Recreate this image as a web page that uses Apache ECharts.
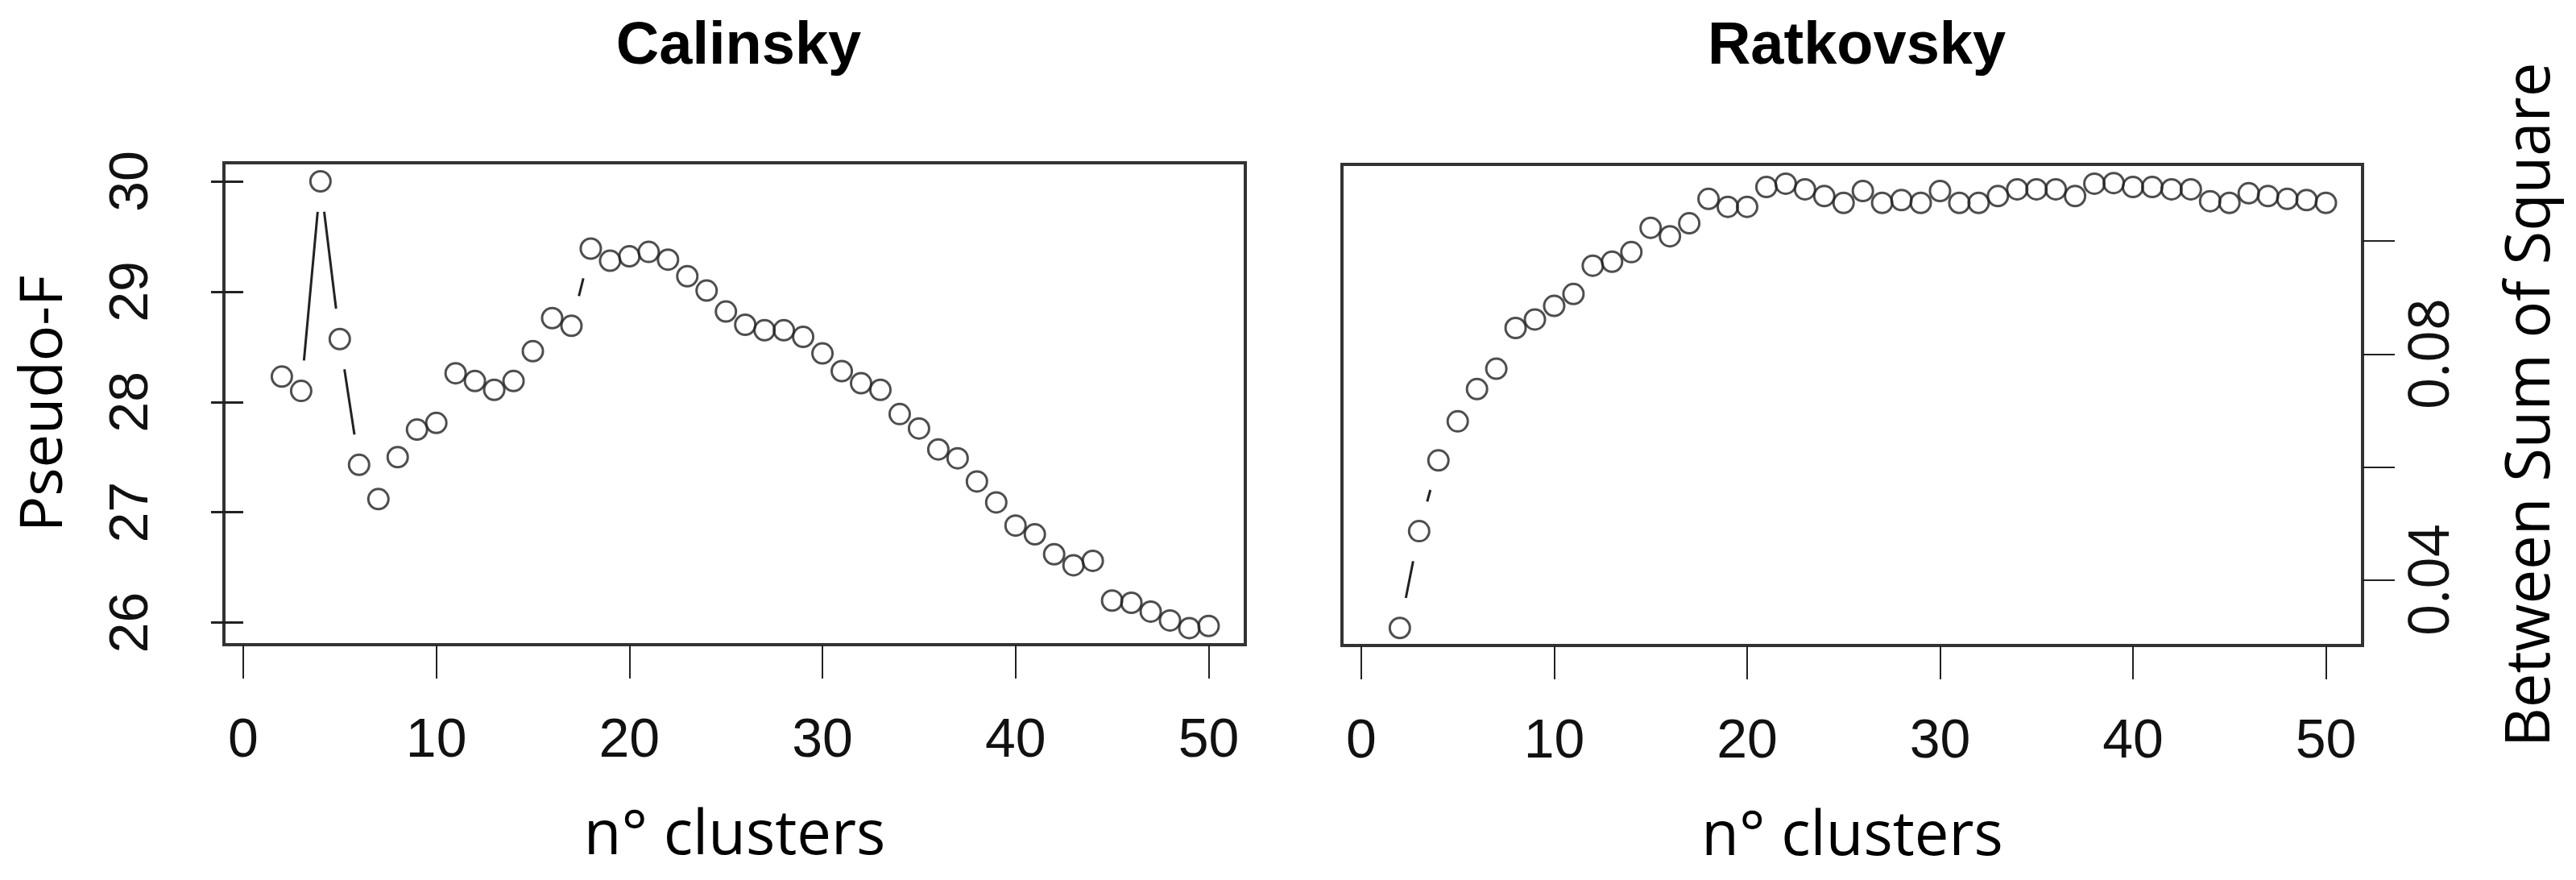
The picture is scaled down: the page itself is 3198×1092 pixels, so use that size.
<!DOCTYPE html>
<html>
<head>
<meta charset="utf-8">
<script src="https://cdn.jsdelivr.net/npm/echarts@6/dist/echarts.min.js"></script>
<style>
  html, body { margin: 0; padding: 0; background: #fff; }
  #chart { width: 3198px; height: 1092px; }
</style>
</head>
<body>
<div id="chart"></div>
<script>
// n° clusters
const clusters = [2, 3, 4, 5, 6, 7, 8, 9, 10, 11, 12, 13, 14, 15, 16, 17, 18, 19, 20,
  21, 22, 23, 24, 25, 26, 27, 28, 29, 30, 31, 32, 33, 34, 35, 36, 37, 38, 39, 40,
  41, 42, 43, 44, 45, 46, 47, 48, 49, 50];

// Calinsky (Pseudo-F)
const calinsky = [28.23, 28.10, 30.00, 28.57, 27.43, 27.12, 27.50, 27.75, 27.81, 28.26,
  28.19, 28.11, 28.19, 28.46, 28.76, 28.69, 29.39, 29.28, 29.32, 29.36,
  29.29, 29.14, 29.01, 28.82, 28.70, 28.65, 28.65, 28.59, 28.44, 28.28,
  28.17, 28.11, 27.89, 27.76, 27.57, 27.49, 27.28, 27.09, 26.88, 26.80,
  26.62, 26.52, 26.56, 26.20, 26.18, 26.10, 26.02, 25.95, 25.97];

// Ratkovsky (between sum of square)
const ratkovsky = [0.0316, 0.0487, 0.0612, 0.0681, 0.0738, 0.0774, 0.0846, 0.0861, 0.0885, 0.0906,
  0.0956, 0.0963, 0.0980, 0.1023, 0.1008, 0.1031, 0.1074, 0.1060, 0.1060, 0.1095,
  0.1101, 0.1091, 0.1079, 0.1067, 0.1088, 0.1067, 0.1072, 0.1067, 0.1088, 0.1067,
  0.1067, 0.1079, 0.1091, 0.1091, 0.1091, 0.1079, 0.1101, 0.1102, 0.1095, 0.1095,
  0.1091, 0.1091, 0.1070, 0.1067, 0.1084, 0.1079, 0.1074, 0.1072, 0.1067];

// ticks
const xTicks = [0, 10, 20, 30, 40, 50];
const calinskyTicks = [26, 27, 28, 29, 30];
const ratkovskyTicks = [0.04, 0.06, 0.08, 0.10];
const ratkovskyLabels = [0.04, 0.08];

const ink = '#222';
const boxColor = '#333';

function pairs(xs, ys) {
  return xs.map((x, i) => [x, ys[i]]);
}
// consecutive point pairs, for R type="b" style connecting segments
function segments(xs, ys) {
  return xs.slice(0, -1).map((x, i) => [x, ys[i], xs[i + 1], ys[i + 1]]);
}

// line drawn between points, leaving a gap round each circle
function renderGap(params, api) {
  const p0 = api.coord([api.value(0), api.value(1)]);
  const p1 = api.coord([api.value(2), api.value(3)]);
  const dx = p1[0] - p0[0], dy = p1[1] - p0[1];
  const d = Math.hypot(dx, dy);
  const gap = 38;
  if (d <= 2 * gap) return null;
  const ux = dx / d, uy = dy / d;
  return {
    type: 'line',
    shape: { x1: p0[0] + ux * gap, y1: p0[1] + uy * gap, x2: p1[0] - ux * gap, y2: p1[1] - uy * gap },
    style: { stroke: ink, lineWidth: 3 }
  };
}

const xAxisBase = {
  type: 'value',
  min: -1,
  max: 51.9,
  axisLine: { show: false },
  splitLine: { show: false },
  axisTick: { show: true, length: 42, customValues: xTicks, lineStyle: { color: ink, width: 2 } },
  axisLabel: {
    customValues: xTicks, margin: 86,
    fontFamily: 'Liberation Sans', fontSize: 68, color: '#111'
  },
  name: 'n° clusters',
  nameLocation: 'middle',
  nameGap: 200,
  nameTextStyle: { fontFamily: 'Open Sans', fontSize: 76, color: '#000' }
};

const chart = echarts.init(document.getElementById('chart'));
chart.setOption({
  animation: false,
  backgroundColor: '#fff',
  title: [
    { text: 'Calinsky', left: 912, top: 17, textAlign: 'center',
      textStyle: { fontFamily: 'Liberation Sans', fontWeight: 'bold', fontSize: 74, color: '#000' } },
    { text: 'Ratkovsky', left: 2300, top: 17, textAlign: 'center',
      textStyle: { fontFamily: 'Liberation Sans', fontWeight: 'bold', fontSize: 74, color: '#000' } }
  ],
  grid: [
    { left: 278, right: 1652, top: 202, bottom: 292, show: true, borderColor: boxColor, borderWidth: 4, backgroundColor: 'transparent' },
    { left: 1666, right: 265, top: 204, bottom: 291, show: true, borderColor: boxColor, borderWidth: 4, backgroundColor: 'transparent' }
  ],
  xAxis: [
    Object.assign({}, xAxisBase, { gridIndex: 0 }),
    Object.assign({}, xAxisBase, { gridIndex: 1 })
  ],
  yAxis: [
    {
      gridIndex: 0, type: 'value', min: 25.8, max: 30.168,
      axisLine: { show: false }, splitLine: { show: false },
      axisTick: { show: true, length: 40, customValues: calinskyTicks, lineStyle: { color: ink, width: 3 } },
      axisLabel: { customValues: calinskyTicks, rotate: 90, margin: 80,
        fontFamily: 'Liberation Sans', fontSize: 68, color: '#111' },
      name: 'Pseudo-F', nameLocation: 'middle', nameRotate: 90, nameGap: 185,
      nameTextStyle: { fontFamily: 'Open Sans', fontSize: 74, color: '#000' }
    },
    {
      gridIndex: 1, type: 'value', position: 'right',
      min: 0.0285, max: 0.1135,
      axisLine: { show: false, onZero: false }, splitLine: { show: false },
      axisTick: { show: true, length: 40, customValues: ratkovskyTicks, lineStyle: { color: ink, width: 2 } },
      axisLabel: { customValues: ratkovskyLabels, rotate: 90, margin: 52,
        fontFamily: 'Open Sans', fontSize: 70, color: '#111',
        formatter: v => v.toFixed(2) },
      name: 'Between Sum of Square', nameLocation: 'middle', nameRotate: 90, nameGap: 172,
      nameTextStyle: { fontFamily: 'Open Sans', fontSize: 76, color: '#000' }
    }
  ],
  series: [
    {
      type: 'custom', xAxisIndex: 0, yAxisIndex: 0, silent: true,
      renderItem: renderGap, encode: { x: [0, 2], y: [1, 3] },
      data: segments(clusters, calinsky)
    },
    {
      type: 'scatter', xAxisIndex: 0, yAxisIndex: 0, silent: true,
      symbol: 'circle', symbolSize: 25,
      itemStyle: { color: 'rgba(0,0,0,0)', borderColor: ink, borderWidth: 3 },
      data: pairs(clusters, calinsky)
    },
    {
      type: 'custom', xAxisIndex: 1, yAxisIndex: 1, silent: true,
      renderItem: renderGap, encode: { x: [0, 2], y: [1, 3] },
      data: segments(clusters, ratkovsky)
    },
    {
      type: 'scatter', xAxisIndex: 1, yAxisIndex: 1, silent: true,
      symbol: 'circle', symbolSize: 25,
      itemStyle: { color: 'rgba(0,0,0,0)', borderColor: ink, borderWidth: 3 },
      data: pairs(clusters, ratkovsky)
    }
  ]
});
</script>
</body>
</html>
